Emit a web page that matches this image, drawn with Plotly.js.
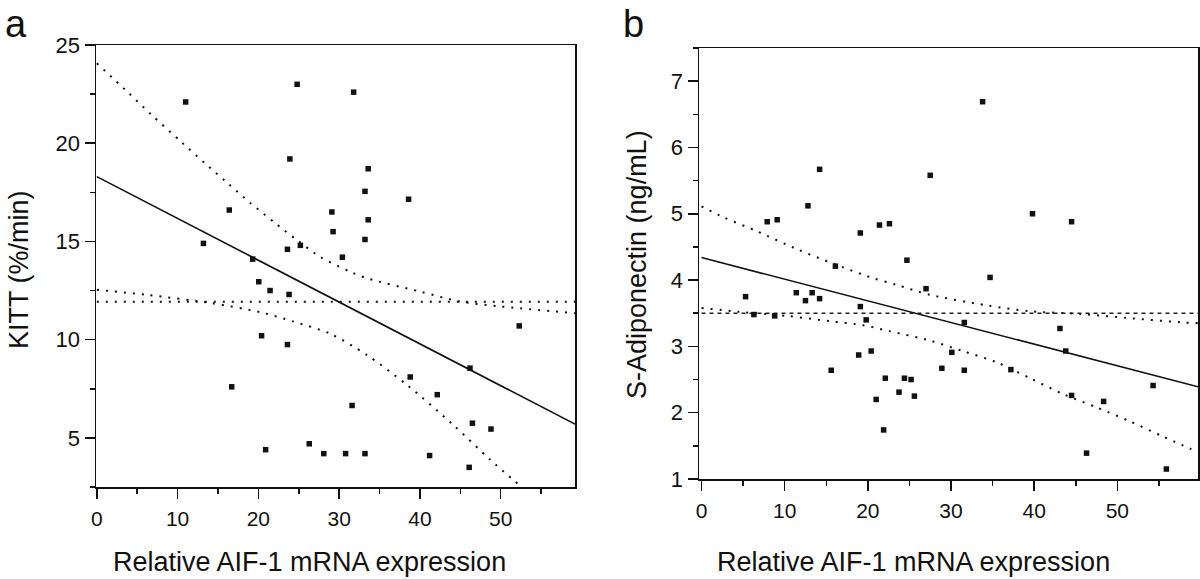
<!DOCTYPE html>
<html>
<head>
<meta charset="utf-8">
<script src="https://cdn.plot.ly/plotly-3.0.1.min.js"></script>
<style>html,body{margin:0;padding:0;background:#fff;}#chart{width:1200px;height:579px;}</style>
</head>
<body>
<div id="chart"></div>
<script>
// ---------- Panel a: KITT vs AIF-1 ----------
const aifA  = [11.0, 24.8, 23.9, 16.4, 13.2, 23.6, 25.2, 19.3, 20.05, 21.45, 23.8, 20.4, 23.6, 16.7, 20.9, 26.3, 28.1,
               31.8, 33.6, 33.2, 38.6, 29.1, 33.6, 29.25, 33.2, 30.4, 52.3, 46.2, 38.8, 42.15, 31.6, 46.5, 48.8,
               30.8, 33.2, 41.2, 46.1];
const kitt  = [22.1, 23.0, 19.2, 16.6, 14.9, 14.6, 14.8, 14.1, 12.95, 12.5, 12.3, 10.2, 9.75, 7.6, 4.4, 4.7, 4.2,
               22.6, 18.7, 17.55, 17.15, 16.5, 16.1, 15.5, 15.1, 14.2, 10.7, 8.55, 8.1, 7.2, 6.65, 5.75, 5.45,
               4.2, 4.2, 4.1, 3.5];
const fitAX = [0, 59.2];
const fitAY = [18.3, 5.7];
const meanAX = [0, 59.2];
const meanAY = [11.93, 11.93];
const upAX = [0, 3.9, 6.7, 10.5, 13.3, 16.1, 19.0, 22.0, 24.75, 27.6, 31.3, 33.4, 40.0, 45.0, 50.0, 59.2];
const upAY = [24.07, 22.57, 21.47, 20.05, 19.01, 18.0, 16.96, 15.96, 15.08, 14.23, 13.47, 13.13, 12.45, 11.94, 11.69, 11.35];
const loAX = [0, 6.2, 14.2, 20.2, 24.3, 28.9, 33.4, 38.4, 44.1, 48.7, 52.5];
const loAY = [12.54, 12.28, 11.86, 11.4, 10.93, 10.3, 9.23, 7.7, 5.67, 3.89, 2.53];

// ---------- Panel b: S-Adiponectin vs AIF-1 ----------
const aifB = [14.2, 27.5, 12.8, 7.9, 9.1, 19.1, 21.4, 22.6, 24.7, 16.1, 33.8, 39.8, 44.5, 34.7,
              5.3, 11.4, 12.5, 13.3, 14.2, 6.3, 8.8, 19.1, 19.8, 27.0, 20.4, 18.9, 15.6, 22.1, 24.4, 25.2,
              23.75, 25.6, 21.0, 21.9, 28.9, 31.6, 43.1, 43.8, 30.1, 31.6, 37.2, 44.5, 48.35, 54.3, 46.3, 55.9];
const adipo = [5.67, 5.58, 5.12, 4.88, 4.91, 4.71, 4.83, 4.85, 4.30, 4.21, 6.69, 5.0, 4.88, 4.04,
               3.75, 3.81, 3.69, 3.81, 3.72, 3.48, 3.46, 3.60, 3.40, 3.87, 2.93, 2.87, 2.64, 2.52, 2.52, 2.50,
               2.31, 2.25, 2.20, 1.74, 2.67, 3.36, 3.27, 2.93, 2.91, 2.64, 2.65, 2.26, 2.17, 2.41, 1.39, 1.15];
const fitBX = [0, 59.7];
const fitBY = [4.34, 2.39];
const meanBX = [0, 59.7];
const meanBY = [3.50, 3.50];
const upBX = [0, 2.6, 6.6, 11.6, 15.8, 20.6, 23.4, 27.4, 34.25, 39.5, 45.5, 51.1, 58.0, 59.7];
const upBY = [5.11, 4.95, 4.74, 4.46, 4.25, 4.03, 3.93, 3.78, 3.62, 3.53, 3.49, 3.43, 3.36, 3.35];
const loBX = [0, 4.6, 10.2, 15.4, 19.4, 22.6, 27.4, 31.4, 35.5, 39.5, 43.5, 47.5, 51.5, 55.5, 58.9];
const loBY = [3.58, 3.52, 3.46, 3.38, 3.32, 3.23, 3.09, 2.93, 2.76, 2.52, 2.28, 2.08, 1.87, 1.64, 1.45];

const xTicks = [0, 10, 20, 30, 40, 50];
const yTicksA = [5, 10, 15, 20, 25];
const yTicksB = [1, 2, 3, 4, 5, 6, 7];

const titleX = 'Relative AIF-1 mRNA expression';
const titleYA = 'KITT (%/min)';
const titleYB = 'S-Adiponectin (ng/mL)';

const W = 1200, H = 579;
const px = v => v / W;
const py = v => (H - v) / H;

const dotStyle = {color: '#111', width: 2, dash: '2px,7px'};
const markerStyle = {symbol: 'square', size: 5.5, color: '#111'};

function panelTraces(xa, ya, xs, ys, fx, fy, mx, my, ux, uy, lx, ly, meanDash) {
  return [
    {x: ux, y: uy, xaxis: xa, yaxis: ya, mode: 'lines', line: Object.assign({shape: 'spline', smoothing: 0.8}, dotStyle), hoverinfo: 'skip'},
    {x: lx, y: ly, xaxis: xa, yaxis: ya, mode: 'lines', line: Object.assign({shape: 'spline', smoothing: 0.8}, dotStyle), hoverinfo: 'skip'},
    {x: mx, y: my, xaxis: xa, yaxis: ya, mode: 'lines', line: meanDash, hoverinfo: 'skip'},
    {x: fx, y: fy, xaxis: xa, yaxis: ya, mode: 'lines', line: {color: '#111', width: 1.6}, hoverinfo: 'skip'},
    {x: xs, y: ys, xaxis: xa, yaxis: ya, mode: 'markers', marker: markerStyle, cliponaxis: false}
  ];
}

const data = [].concat(
  panelTraces('x', 'y', aifA, kitt, fitAX, fitAY, meanAX, meanAY, upAX, upAY, loAX, loAY, dotStyle),
  panelTraces('x2', 'y2', aifB, adipo, fitBX, fitBY, meanBX, meanBY, upBX, upBY, loBX, loBY,
              {color: '#222', width: 1.5, dash: '4px,4px'})
);

const tickFontX = {family: 'Liberation Sans Narrow, Arial Narrow, Liberation Sans, Arial', size: 21, color: '#111'};
const tickFontY = {family: 'Liberation Sans Narrow, Arial Narrow, Liberation Sans, Arial', size: 22, color: '#111'};

function axisBase(extra) {
  return Object.assign({
    showline: true, linecolor: '#111', linewidth: 1.5, mirror: true,
    showgrid: false, zeroline: false,
    ticks: 'outside', ticklen: 10, tickwidth: 1.5, tickcolor: '#111',
    fixedrange: true
  }, extra);
}

const layout = {
  width: W, height: H,
  margin: {l: 0, r: 0, t: 0, b: 0},
  paper_bgcolor: '#fff', plot_bgcolor: '#fff',
  showlegend: false,
  xaxis: axisBase({domain: [px(96), px(575)], range: [-0.1, 59.2], anchor: 'y',
    tickvals: xTicks, ticktext: xTicks.map(String), tickfont: tickFontX, ticklabelstandoff: 2,
    minor: {dtick: 5, tick0: 0, ticklen: 5, tickwidth: 1.5, tickcolor: '#111', ticks: 'outside', showgrid: false}}),
  yaxis: axisBase({domain: [py(487), py(45)], range: [2.5, 25], anchor: 'x',
    tickvals: yTicksA, ticktext: yTicksA.map(String), tickfont: tickFontY, ticklabelstandoff: 0,
    minor: {dtick: 2.5, tick0: 0, ticklen: 5, tickwidth: 1.5, tickcolor: '#111', ticks: 'outside', showgrid: false}}),
  xaxis2: axisBase({domain: [px(699), px(1198)], range: [-0.3, 59.7], anchor: 'y2',
    tickvals: xTicks, ticktext: xTicks.map(String), tickfont: tickFontX, ticklabelstandoff: 2,
    minor: {dtick: 5, tick0: 0, ticklen: 5, tickwidth: 1.5, tickcolor: '#111', ticks: 'outside', showgrid: false}}),
  yaxis2: axisBase({domain: [py(479), py(48)], range: [1, 7.5], anchor: 'x2',
    tickvals: yTicksB, ticktext: yTicksB.map(String), tickfont: tickFontY, ticklabelstandoff: 0,
    minor: {dtick: 0.5, tick0: 0, ticklen: 5, tickwidth: 1.5, tickcolor: '#111', ticks: 'outside', showgrid: false}}),
  annotations: [
    {text: 'a', xref: 'paper', yref: 'paper', x: px(16), y: py(24), xanchor: 'center', yanchor: 'middle', showarrow: false,
     font: {family: 'Liberation Sans, Arial', size: 38, color: '#111'}},
    {text: 'b', xref: 'paper', yref: 'paper', x: px(633), y: py(24), xanchor: 'center', yanchor: 'middle', showarrow: false,
     font: {family: 'Liberation Sans, Arial', size: 38, color: '#111'}},
    {text: titleX, xref: 'paper', yref: 'paper', x: px(111), y: py(562), xanchor: 'left', yanchor: 'middle', showarrow: false,
     font: {family: 'Liberation Sans, Arial', size: 27, color: '#111'}},
    {text: titleX, xref: 'paper', yref: 'paper', x: px(715), y: py(562), xanchor: 'left', yanchor: 'middle', showarrow: false,
     font: {family: 'Liberation Sans, Arial', size: 27, color: '#111'}},
    {text: titleYA, xref: 'paper', yref: 'paper', x: px(19), y: py(270), xanchor: 'center', yanchor: 'middle', textangle: -90, showarrow: false,
     font: {family: 'Liberation Sans, Arial', size: 27, color: '#111'}},
    {text: titleYB, xref: 'paper', yref: 'paper', x: px(637), y: py(265), xanchor: 'center', yanchor: 'middle', textangle: -90, showarrow: false,
     font: {family: 'Liberation Sans, Arial', size: 27, color: '#111'}}
  ]
};

Plotly.newPlot('chart', data, layout, {displayModeBar: false, staticPlot: true});
</script>
</body>
</html>
